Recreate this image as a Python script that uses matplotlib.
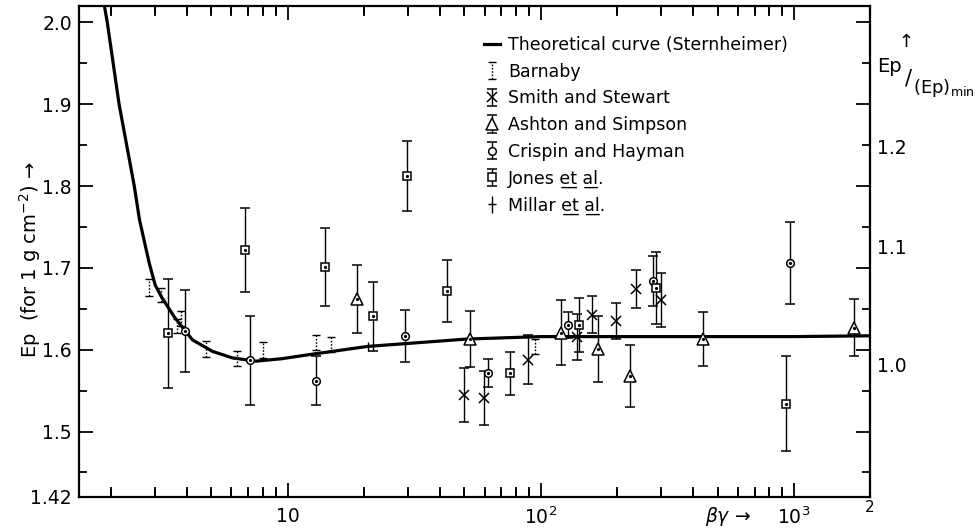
import matplotlib

matplotlib.use("Agg")
import matplotlib.pyplot as plt
import numpy as np
from matplotlib.markers import TICKDOWN, TICKUP
from matplotlib.ticker import FixedFormatter, FixedLocator, NullFormatter

# Sternheimer curve, Ep (for 1 g cm^-2) against beta*gamma
theory_bg = [1.89, 1.94, 2.16, 2.48, 2.60, 2.84, 3.0, 3.17, 3.57, 4.21, 5.05, 6.05,
             7.5, 9.5, 12.2, 20.7, 51, 100, 300, 1000, 2000]
theory_ep = [2.02, 2.00, 1.90, 1.80, 1.759, 1.706, 1.679, 1.665, 1.640, 1.612, 1.598, 1.590,
             1.586, 1.589, 1.594, 1.604, 1.613, 1.616, 1.616, 1.616, 1.617]

barnaby_bg = [2.84, 3.17, 3.65, 3.80, 4.77, 6.34, 8.03, 12.9, 14.9, 95]
barnaby_ep = [1.676, 1.667, 1.629, 1.638, 1.601, 1.589, 1.600, 1.609, 1.606, 1.604]
barnaby_err = [0.010, 0.009, 0.009, 0.009, 0.010, 0.009, 0.010, 0.009, 0.009, 0.009]

smith_bg = [49.8, 59.7, 89.2, 139.7, 160, 199, 239, 300]
smith_ep = [1.545, 1.541, 1.588, 1.616, 1.643, 1.635, 1.674, 1.661]
smith_err = [0.033, 0.033, 0.030, 0.028, 0.023, 0.022, 0.023, 0.033]

ashton_bg = [18.8, 52.6, 120.5, 169, 226, 436, 1730]
ashton_ep = [1.662, 1.613, 1.621, 1.601, 1.568, 1.613, 1.627]
ashton_err = [0.042, 0.034, 0.040, 0.040, 0.038, 0.033, 0.035]

crispin_bg = [3.95, 7.08, 12.9, 29.0, 62, 128.5, 276.6, 964]
crispin_ep = [1.623, 1.587, 1.562, 1.617, 1.572, 1.630, 1.684, 1.706]
crispin_err = [0.050, 0.054, 0.030, 0.032, 0.017, 0.016, 0.030, 0.050]

jones_bg = [3.38, 6.76, 14.0, 21.7, 29.6, 42.7, 75.7, 141.9, 286, 929]
jones_ep = [1.620, 1.722, 1.701, 1.641, 1.812, 1.672, 1.571, 1.630, 1.676, 1.534]
jones_err = [0.067, 0.051, 0.048, 0.042, 0.043, 0.038, 0.026, 0.033, 0.044, 0.058]

millar_bg = [20.7]
millar_ep = [1.604]
millar_err = [0.006]

# right-hand scale: Ep / (Ep)min
ratio_labels = ["1.0", "1.1", "1.2"]
ratio_at_ep = [1.579, 1.724, 1.846]

# tick positions on the beta*gamma axis
major_x = [10, 100, 1000]
major_x_labels = ["10", r"10$^2$", r"10$^3$"]
minor_x = [2, 3, 4, 5, 6, 7, 8, 9, 20, 30, 40, 50, 60, 70, 80, 90,
           200, 300, 400, 500, 600, 700, 800, 900]

U = "\u0332"  # combining low line
ET_AL = f"e{U}t{U} a{U}l{U}."
ARROW = "\u2192"

plt.rcParams["font.family"] = ["DejaVu Sans"]
plt.rcParams["mathtext.fontset"] = "dejavusans"

W, H = 976, 531


def fx(px):
    return px / W


def fy(py):
    return 1 - py / H


def series(ax, bg, ep, err, marker, ms, label, dot=True):
    cont = ax.errorbar(bg, ep, yerr=err, fmt=marker, ms=ms, mfc="white", mec="black",
                       mew=1.1, ecolor="black", elinewidth=1.0, capsize=3.5,
                       capthick=1.0, label=label, zorder=3)
    if dot:
        ax.plot(bg, ep, ls="none", marker="o", ms=1.3, color="black", zorder=4)
    return cont


fig = plt.figure(figsize=(W / 100, H / 100), dpi=100)
ax = fig.add_axes([fx(79), fy(497), fx(870 - 79), (497 - 6) / H])

curve, = ax.plot(theory_bg, theory_ep, color="black", lw=2.3,
                 label="Theoretical curve (Sternheimer)", zorder=2)

barnaby = ax.errorbar(barnaby_bg, barnaby_ep, yerr=barnaby_err, fmt="none",
                      ecolor="black", elinewidth=1.0, capsize=3.0, capthick=1.0,
                      label="Barnaby", zorder=3)
barnaby[2][0].set_linestyle((0, (1.2, 1.2)))

smith = series(ax, smith_bg, smith_ep, smith_err, "x", 6.5, "Smith and Stewart", dot=False)
ashton = series(ax, ashton_bg, ashton_ep, ashton_err, "^", 8, "Ashton and Simpson")
crispin = series(ax, crispin_bg, crispin_ep, crispin_err, "o", 5.5, "Crispin and Hayman")
jones = series(ax, jones_bg, jones_ep, jones_err, "s", 6, "Jones " + ET_AL)
millar = ax.errorbar(millar_bg, millar_ep, yerr=millar_err, fmt="_", ms=6, mec="black",
                     mew=1.0, ecolor="black", elinewidth=1.0, capsize=0,
                     label="Millar " + ET_AL, zorder=3)

ax.set_xscale("log")
ax.set_xlim(1.5, 2000)
ax.set_ylim(1.42, 2.02)

ax.xaxis.set_major_locator(FixedLocator(major_x))
ax.xaxis.set_major_formatter(FixedFormatter(major_x_labels))
ax.xaxis.set_minor_locator(FixedLocator(minor_x))
ax.xaxis.set_minor_formatter(NullFormatter())
ax.yaxis.set_major_locator(FixedLocator([1.42, 1.5, 1.6, 1.7, 1.8, 1.9, 2.0]))
ax.yaxis.set_major_formatter(FixedFormatter(["1.42", "1.5", "1.6", "1.7", "1.8", "1.9", "2.0"]))
ax.yaxis.set_minor_locator(FixedLocator([1.45, 1.55, 1.65, 1.75, 1.85, 1.95]))
ax.yaxis.set_minor_formatter(NullFormatter())

ax.tick_params(which="both", direction="in", top=True, right=True, width=1.3,
               labelsize=13.5)
ax.tick_params(which="major", length=10)
ax.tick_params(which="minor", length=6)
ax.tick_params(axis="x", pad=7)
ax.tick_params(axis="y", pad=5)

# short inward marks for the minor decades along bottom and top edges
xedge = ax.get_xaxis_transform()
ax.plot(minor_x, [0] * len(minor_x), transform=xedge, ls="none", marker=TICKUP,
        ms=7, mew=1.3, color="black", clip_on=False, zorder=5)
ax.plot(minor_x, [1] * len(minor_x), transform=xedge, ls="none", marker=TICKDOWN,
        ms=7, mew=1.3, color="black", clip_on=False, zorder=5)
ax.set_xlim(1.5, 2000)

for spine in ax.spines.values():
    spine.set_linewidth(1.6)

for lab, ep in zip(ratio_labels, ratio_at_ep):
    ax.text(1.009, ep, lab, transform=ax.get_yaxis_transform(), ha="left",
            va="center", fontsize=13.5)
ax.text(2000, -0.022, "2", transform=xedge, ha="center", va="center", fontsize=11)

ax.legend(handles=[curve, barnaby, smith, ashton, crispin, jones, millar],
          loc="upper left", bbox_to_anchor=(fx(484), fy(36)),
          bbox_transform=fig.transFigure, frameon=False, fontsize=12.5,
          handlelength=0.9, handletextpad=0.5, labelspacing=0.5, borderpad=0,
          borderaxespad=0)

fig.text(fx(30), fy(260), "Ep  (for 1 g cm$^{-2}$) " + ARROW, rotation=90,
         ha="center", va="center", fontsize=14)
fig.text(fx(705), fy(517), r"$\beta\gamma$ " + ARROW, ha="left", va="center",
         fontsize=13.5)

fig.text(fx(906), fy(42), "\u2191", ha="center", va="center", fontsize=13)
fig.text(fx(877), fy(66), "Ep", ha="left", va="center", fontsize=14)
fig.text(fx(905), fy(78), "/", ha="left", va="center", fontsize=15)
fig.text(fx(913), fy(88), "(Ep)$_{\\mathrm{min}}$", ha="left", va="center", fontsize=13)

fig.savefig("out.png", dpi=100)
